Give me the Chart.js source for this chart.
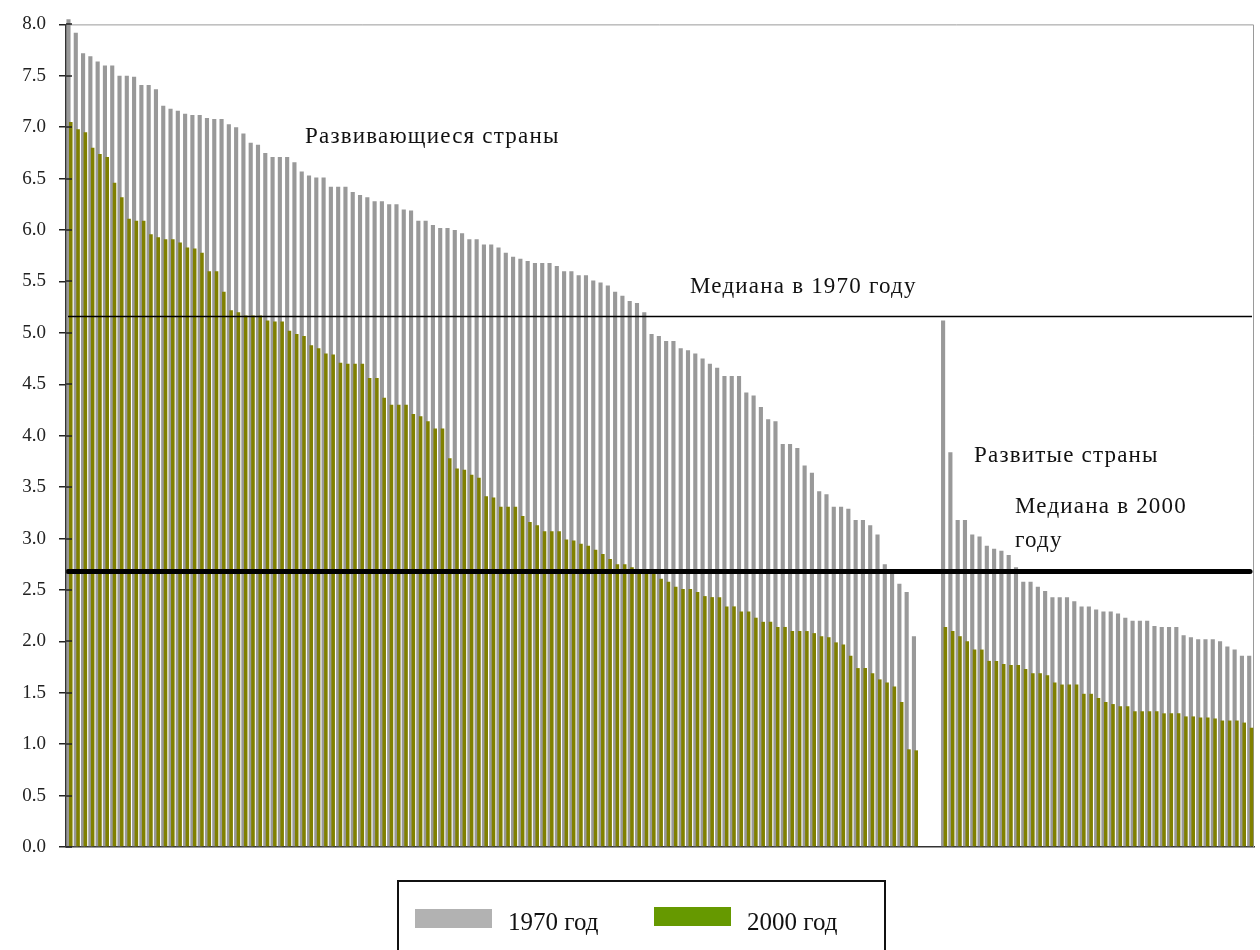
<!DOCTYPE html>
<html>
<head>
<meta charset="utf-8">
<script src="https://cdn.jsdelivr.net/npm/chart.js@4.4.1/dist/chart.umd.min.js"></script>
<style>
  body { margin: 0; background: #fff; }
  #wrap { position: relative; width: 1260px; height: 950px; overflow: hidden; }
  #legend { position: absolute; left: 397px; top: 880px; width: 485px; height: 90px; border: 2px solid #111; }
  .sw { position: absolute; width: 77px; height: 19px; }
  .lt { position: absolute; font: 25px 'Liberation Serif', 'Times New Roman', serif; line-height: 25px; color: #111; white-space: nowrap; }
</style>
</head>
<body>
<div id="wrap">
  <canvas id="chart" width="1260" height="950"></canvas>
  <div id="legend"></div>
</div>
<script>
// fertility values, developing countries (sorted by 1970 value)
const dev1970 = [
  8.05, 7.92, 7.72, 7.69, 7.64, 7.60, 7.60, 7.50, 7.50, 7.49,
  7.41, 7.41, 7.37, 7.21, 7.18, 7.16, 7.13, 7.12, 7.12, 7.09,
  7.08, 7.08, 7.03, 7.00, 6.94, 6.85, 6.83, 6.75, 6.71, 6.71,
  6.71, 6.66, 6.57, 6.53, 6.51, 6.51, 6.42, 6.42, 6.42, 6.37,
  6.34, 6.32, 6.28, 6.28, 6.25, 6.25, 6.20, 6.19, 6.09, 6.09,
  6.05, 6.02, 6.02, 6.00, 5.97, 5.91, 5.91, 5.86, 5.86, 5.83,
  5.78, 5.74, 5.72, 5.70, 5.68, 5.68, 5.68, 5.65, 5.60, 5.60,
  5.56, 5.56, 5.51, 5.49, 5.46, 5.40, 5.36, 5.31, 5.29, 5.20,
  4.99, 4.97, 4.92, 4.92, 4.85, 4.83, 4.80, 4.75, 4.70, 4.66,
  4.58, 4.58, 4.58, 4.42, 4.39, 4.28, 4.16, 4.14, 3.92, 3.92,
  3.88, 3.71, 3.64, 3.46, 3.43, 3.31, 3.31, 3.29, 3.18, 3.18,
  3.13, 3.04, 2.75, 2.66, 2.56, 2.48, 2.05
];
const dev2000 = [
  7.05, 6.98, 6.95, 6.80, 6.74, 6.71, 6.46, 6.32, 6.11, 6.09,
  6.09, 5.96, 5.93, 5.91, 5.91, 5.88, 5.83, 5.82, 5.78, 5.60,
  5.60, 5.40, 5.22, 5.20, 5.17, 5.17, 5.17, 5.12, 5.11, 5.11,
  5.02, 4.99, 4.97, 4.88, 4.85, 4.80, 4.79, 4.71, 4.70, 4.70,
  4.70, 4.56, 4.56, 4.37, 4.30, 4.30, 4.30, 4.21, 4.19, 4.14,
  4.07, 4.07, 3.78, 3.68, 3.67, 3.62, 3.59, 3.41, 3.40, 3.31,
  3.31, 3.31, 3.22, 3.16, 3.13, 3.07, 3.07, 3.07, 2.99, 2.98,
  2.95, 2.93, 2.89, 2.85, 2.80, 2.75, 2.75, 2.72, 2.70, 2.68,
  2.66, 2.61, 2.58, 2.53, 2.51, 2.51, 2.48, 2.44, 2.43, 2.43,
  2.34, 2.34, 2.29, 2.29, 2.23, 2.19, 2.19, 2.14, 2.14, 2.10,
  2.10, 2.10, 2.08, 2.05, 2.04, 1.99, 1.97, 1.86, 1.74, 1.74,
  1.69, 1.63, 1.60, 1.56, 1.41, 0.95, 0.94
];
// developed countries
const rich1970 = [
  5.12, 3.84, 3.18, 3.18, 3.04, 3.02, 2.93, 2.90, 2.88, 2.84,
  2.72, 2.58, 2.58, 2.53, 2.49, 2.43, 2.43, 2.43, 2.39, 2.34,
  2.34, 2.31, 2.29, 2.29, 2.27, 2.23, 2.20, 2.20, 2.20, 2.15,
  2.14, 2.14, 2.14, 2.06, 2.04, 2.02, 2.02, 2.02, 2.00, 1.95,
  1.92, 1.86, 1.86
];
const rich2000 = [
  2.14, 2.10, 2.05, 2.00, 1.92, 1.92, 1.81, 1.81, 1.78, 1.77,
  1.77, 1.73, 1.69, 1.69, 1.67, 1.60, 1.58, 1.58, 1.58, 1.49,
  1.49, 1.45, 1.41, 1.39, 1.37, 1.37, 1.32, 1.32, 1.32, 1.32,
  1.30, 1.30, 1.30, 1.27, 1.27, 1.26, 1.26, 1.25, 1.23, 1.23,
  1.23, 1.21, 1.16
];
const gapSlots = 3;
const median1970 = 5.16;
const median2000 = 2.68;
const seriesNames = ['1970 год', '2000 год'];

const GREY = '#999999';
const OLIVE = '#808000';
const LEGEND_COLORS = ['#b2b2b2', '#669900'];
const SERIF = "'Liberation Serif', 'Times New Roman', serif";

const gap = new Array(gapSlots).fill(null);
const labels = [
  ...dev1970.map((v, i) => 'dev ' + (i + 1)),
  ...gap.map((v, i) => 'gap ' + (i + 1)),
  ...rich1970.map((v, i) => 'rich ' + (i + 1))
];

// captions drawn on the canvas (pixel positions)
const notes = [
  { text: 'Развивающиеся страны', x: 305, y: 143 },
  { text: 'Медиана в 1970 году', x: 690, y: 293 },
  { text: 'Развитые страны', x: 974, y: 462 },
  { text: 'Медиана в 2000', x: 1015, y: 513 },
  { text: 'году', x: 1015, y: 547 }
];

const overlay = {
  id: 'overlay',
  beforeDatasetsDraw(chart) {
    const { ctx, chartArea: a } = chart;
    ctx.save();
    ctx.strokeStyle = '#9a9a9a';
    ctx.lineWidth = 1;
    ctx.beginPath();
    ctx.moveTo(a.left, a.top + 0.5);
    ctx.lineTo(a.right - 0.5, a.top + 0.5);
    ctx.lineTo(a.right - 0.5, a.bottom);
    ctx.stroke();
    ctx.restore();
  },
  // green bars are skipped in the normal pass so they end up above the grey ones
  beforeDatasetDraw(chart, args) {
    if (args.index === 1) return false;
  },
  afterDatasetsDraw(chart) {
    const { ctx, chartArea: a, scales: { y } } = chart;
    chart.getDatasetMeta(1).controller.draw();

    ctx.save();
    // inner half of the tick marks
    ctx.strokeStyle = '#222';
    ctx.lineWidth = 1.5;
    y.ticks.forEach(t => {
      const py = Math.round(y.getPixelForValue(t.value));
      ctx.beginPath();
      ctx.moveTo(a.left, py);
      ctx.lineTo(a.left + 6, py);
      ctx.stroke();
    });

    // median lines
    ctx.strokeStyle = '#000';
    ctx.lineWidth = 1.5;
    const p70 = y.getPixelForValue(median1970);
    ctx.beginPath();
    ctx.moveTo(a.left + 2, p70);
    ctx.lineTo(a.right - 2, p70);
    ctx.stroke();

    ctx.lineWidth = 5;
    ctx.lineCap = 'round';
    const p00 = y.getPixelForValue(median2000);
    ctx.beginPath();
    ctx.moveTo(a.left + 2, p00);
    ctx.lineTo(a.right - 4, p00);
    ctx.stroke();

    ctx.fillStyle = '#111';
    ctx.font = '23px ' + SERIF;
    ctx.letterSpacing = '1.2px';
    ctx.textBaseline = 'alphabetic';
    notes.forEach(n => ctx.fillText(n.text, n.x, n.y));
    ctx.restore();
  }
};

const ctx = document.getElementById('chart').getContext('2d');
new Chart(ctx, {
  type: 'bar',
  data: {
    labels: labels,
    datasets: [
      {
        label: seriesNames[0],
        data: [...dev1970, ...gap, ...rich1970],
        backgroundColor: GREY,
        categoryPercentage: 0.63,
        barPercentage: 1.8,
        clip: false
      },
      {
        label: seriesNames[1],
        data: [...dev2000, ...gap, ...rich2000],
        backgroundColor: OLIVE,
        categoryPercentage: 0.63,
        barPercentage: 1.55
      }
    ]
  },
  options: {
    responsive: false,
    animation: false,
    devicePixelRatio: 1,
    layout: { padding: { top: 19, right: 6, bottom: 103, left: 0 } },
    plugins: {
      legend: { display: false },
      tooltip: { enabled: false }
    },
    scales: {
      x: {
        ticks: { display: false },
        grid: { display: false },
        border: { color: '#333', width: 1.5 },
        afterFit: s => { s.height = 0; }
      },
      y: {
        min: 0,
        max: 8,
        afterFit: s => { s.width = 66; },
        ticks: {
          stepSize: 0.5,
          padding: 13,
          color: '#222',
          font: { family: SERIF, size: 19 },
          callback: v => v.toFixed(1)
        },
        grid: { drawOnChartArea: false, drawTicks: true, tickLength: 7, color: '#222', lineWidth: 1.5 },
        border: { color: '#333', width: 1.5, z: 1 }
      }
    }
  },
  plugins: [overlay]
});

// legend box under the chart
const legend = document.getElementById('legend');
const items = [
  { sw: [16, 27], tx: [109, 27] },
  { sw: [255, 25], tx: [348, 27] }
];
seriesNames.forEach((name, i) => {
  const sw = document.createElement('div');
  sw.className = 'sw';
  sw.style.left = items[i].sw[0] + 'px';
  sw.style.top = items[i].sw[1] + 'px';
  sw.style.background = LEGEND_COLORS[i];
  legend.appendChild(sw);
  const tx = document.createElement('div');
  tx.className = 'lt';
  tx.style.left = items[i].tx[0] + 'px';
  tx.style.top = items[i].tx[1] + 'px';
  tx.textContent = name;
  legend.appendChild(tx);
});
</script>
</body>
</html>
